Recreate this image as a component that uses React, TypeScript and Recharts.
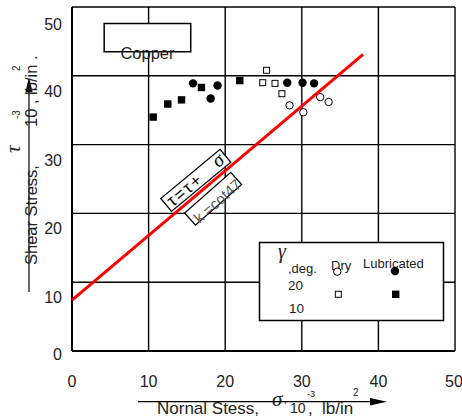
import {
  ScatterChart,
  Scatter,
  XAxis,
  YAxis,
  CartesianGrid,
  ReferenceArea,
  ReferenceDot,
} from "recharts";

const FONT = "'Liberation Sans', Arial, sans-serif";
const SERIF = "'Liberation Serif', 'Times New Roman', serif";

const ticks = [0, 10, 20, 30, 40, 50];

// gamma = 20 deg
const dry20 = [
  { x: 28.4, y: 35.7 },
  { x: 30.2, y: 34.7 },
  { x: 32.4, y: 36.9 },
  { x: 33.5, y: 36.2 },
];
const lub20 = [
  { x: 15.8, y: 38.9 },
  { x: 18.1, y: 36.7 },
  { x: 19.0, y: 38.6 },
  { x: 28.1, y: 39.0 },
  { x: 30.1, y: 39.0 },
  { x: 31.6, y: 38.9 },
];
// gamma = 10 deg
const dry10 = [
  { x: 24.9, y: 39.0 },
  { x: 25.4, y: 40.8 },
  { x: 26.5, y: 38.9 },
  { x: 27.4, y: 37.4 },
];
const lub10 = [
  { x: 10.6, y: 34.0 },
  { x: 12.5, y: 35.9 },
  { x: 14.3, y: 36.5 },
  { x: 16.9, y: 38.3 },
  { x: 21.9, y: 39.3 },
];
const fitLine = [
  { x: 0, y: 7.4 },
  { x: 38, y: 43.1 },
];

const OpenCircle = (p: any) => (
  <circle cx={p.cx} cy={p.cy} r={3.7} fill="#fff" stroke="#000" strokeWidth={1} />
);
const FilledCircle = (p: any) => <circle cx={p.cx} cy={p.cy} r={4.2} fill="#000" />;
const OpenSquare = (p: any) => (
  <rect x={p.cx - 3} y={p.cy - 3} width={6} height={6} fill="#fff" stroke="#000" strokeWidth={1} />
);
const FilledSquare = (p: any) => (
  <rect x={p.cx - 3.7} y={p.cy - 3.7} width={7.4} height={7.4} fill="#000" />
);
const NoDot = () => <g />;

const XTick = ({ x, y, payload }: any) => (
  <text x={x} y={y + 27.5} textAnchor="middle" fontSize={16} fontFamily={FONT} fill="#222">
    {payload.value}
  </text>
);
const YTick = ({ x, y, payload }: any) => (
  <text
    x={x - 2}
    y={y + (payload.value === 0 ? 9 : 21)}
    textAnchor="end"
    fontSize={16}
    fontFamily={FONT}
    fill="#222"
  >
    {payload.value}
  </text>
);

const FormulaBox = (p: any) => (
  <g transform={`translate(${p.cx},${p.cy}) rotate(-39.7)`}>
    <rect x={-38.5} y={-8.4} width={77} height={16.8} fill="#fff" stroke="#000" strokeWidth={1.3} />
    <text x={-35} y={6} fontSize={17} fontFamily={FONT} letterSpacing={2} fill="#000">
      τ=τ+
    </text>
    <text x={25} y={5} fontSize={20} fontFamily={SERIF} fontStyle="italic" fill="#000">
      σ
    </text>
  </g>
);

const SlopeBox = (p: any) => (
  <g transform={`translate(${p.cx},${p.cy}) rotate(-41.4)`}>
    <rect x={-30.7} y={-8.15} width={61.4} height={16.3} fill="#fff" stroke="#000" strokeWidth={1.3} />
    <text x={-27} y={10} fontSize={15} fontFamily={FONT} fill="#555">
      k =cot47
    </text>
  </g>
);

function Overlay() {
  return (
    <svg
      width={462}
      height={418}
      style={{ position: "absolute", left: 0, top: 0, pointerEvents: "none" }}
    >
      {/* y axis label */}
      <g fontFamily={FONT} fill="#222">
        <line x1={29} y1={292} x2={29} y2={88} stroke="#000" strokeWidth={1.2} />
        <polygon points="29,77 25.5,92 32.5,92" fill="#000" />
        <g transform="rotate(-90)">
          <text x={-265} y={37} fontSize={16.5}>Shear Stress,</text>
          <text x={-127} y={37} fontSize={16.5}>10 , lb/in .</text>
          <text x={-153} y={20} fontSize={21} fontFamily={SERIF} fontStyle="italic">τ</text>
          <text x={-119} y={20} fontSize={10}>-3</text>
          <text x={-71} y={20} fontSize={10}>2</text>
        </g>
      </g>
      {/* x axis label */}
      <g fontFamily={FONT} fill="#222">
        <line x1={138} y1={401.7} x2={372} y2={401.7} stroke="#000" strokeWidth={1.2} />
        <polygon points="387,401.7 370,398 370,405.5" fill="#000" />
        <text x={157} y={414} fontSize={17}>Nornal Stess,</text>
        <text x={272} y={406} fontSize={21} fontFamily={SERIF} fontStyle="italic">σ</text>
        <text x={284} y={403} fontSize={10}>,</text>
        <text x={290} y={413} fontSize={14}>10</text>
        <text x={307} y={397} fontSize={9}>-3</text>
        <text x={308} y={414} fontSize={17}>,</text>
        <text x={322} y={414} fontSize={17}>lb/in</text>
        <text x={353} y={396} fontSize={10}>2</text>
      </g>
      {/* legend */}
      <g fontFamily={FONT} fill="#222">
        <rect x={259.5} y={242.5} width={184} height={78} fill="#fff" stroke="#000" strokeWidth={1.5} />
        <text x={278} y={258} fontSize={20} fontFamily={SERIF} fontStyle="italic">γ</text>
        <text x={288} y={273} fontSize={13}>,deg.</text>
        <text x={331} y={270} fontSize={13}>Dry</text>
        <text x={363} y={268} fontSize={13}>Lubricated</text>
        <text x={288} y={290} fontSize={13.5}>20</text>
        <text x={289} y={313} fontSize={13.5}>10</text>
        <OpenCircle cx={337.3} cy={271.7} />
        <FilledCircle cx={395} cy={271} />
        <OpenSquare cx={338.3} cy={294.3} />
        <FilledSquare cx={395.7} cy={294.3} />
      </g>
    </svg>
  );
}

export default function App() {
  return (
    <div style={{ position: "fixed", left: 0, top: 0, width: 462, height: 418, background: "#fff" }}>
      <ScatterChart width={462} height={418} margin={{ top: 7, right: 7, bottom: 0, left: 0 }}>
        <CartesianGrid stroke="#000" strokeWidth={1.4} />
        <XAxis
          type="number"
          dataKey="x"
          domain={[0, 50]}
          ticks={ticks}
          height={67}
          tickLine={false}
          axisLine={{ stroke: "#000", strokeWidth: 2 }}
          tick={<XTick />}
        />
        <YAxis
          type="number"
          dataKey="y"
          domain={[0, 50]}
          ticks={ticks}
          width={72}
          tickLine={false}
          axisLine={{ stroke: "#000", strokeWidth: 2 }}
          tick={<YTick />}
        />
        <ReferenceArea
          x1={4.2}
          x2={15.5}
          y1={43.5}
          y2={47.6}
          fill="#fff"
          fillOpacity={1}
          stroke="#000"
          strokeWidth={1.5}
          label={{ value: "Copper", position: "insideBottom", offset: -7, fill: "#222", fontSize: 16.5, fontFamily: FONT }}
        />
        <ReferenceDot x={16.16} y={24.8} r={1} shape={FormulaBox} />
        <ReferenceDot x={18.42} y={22.13} r={1} shape={SlopeBox} />
        <Scatter data={lub10} shape={FilledSquare} isAnimationActive={false} />
        <Scatter data={dry10} shape={OpenSquare} isAnimationActive={false} />
        <Scatter data={lub20} shape={FilledCircle} isAnimationActive={false} />
        <Scatter data={dry20} shape={OpenCircle} isAnimationActive={false} />
        <Scatter
          data={fitLine}
          line={{ stroke: "#ff0000", strokeWidth: 3 }}
          shape={NoDot}
          isAnimationActive={false}
        />
      </ScatterChart>
      <Overlay />
    </div>
  );
}
